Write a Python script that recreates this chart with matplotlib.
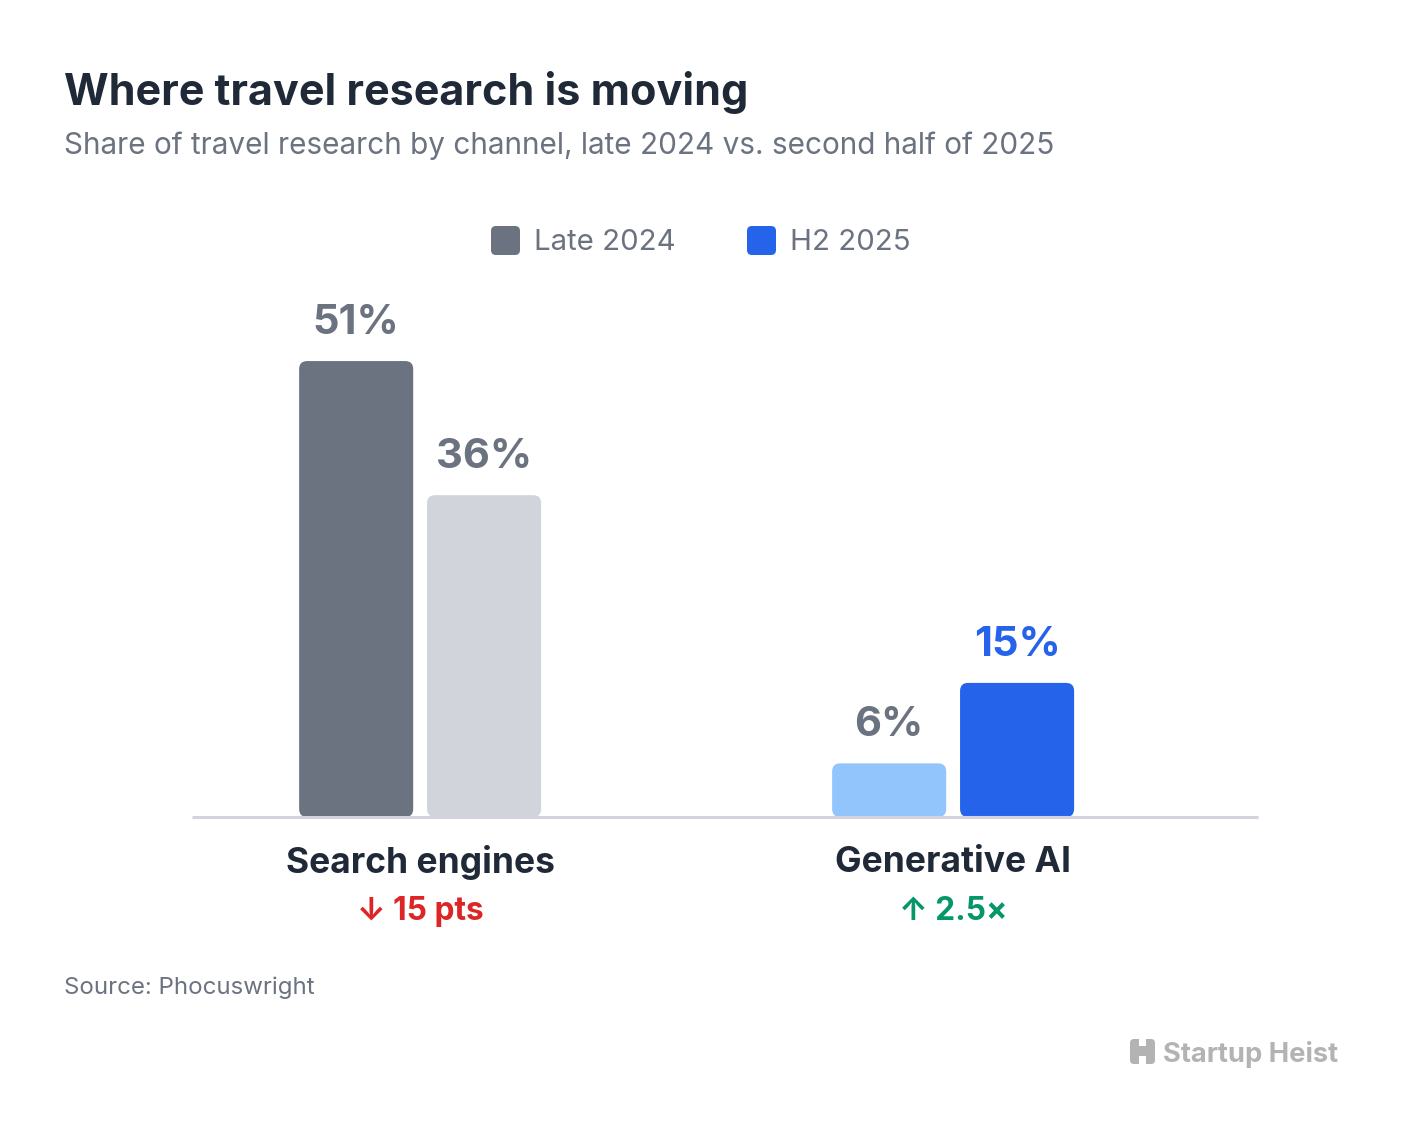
import numpy as np
import matplotlib.pyplot as plt
from matplotlib.patches import FancyBboxPatch, Rectangle

plt.rcParams['font.family'] = ['Inter', 'DejaVu Sans']

# data
categories = ['Search engines', 'Generative AI']
series = ['Late 2024', 'H2 2025']
late_2024 = [51, 6]
h2_2025 = [36, 15]
changes = ['\u2193 15 pts', '\u2191 2.5\u00d7']

# styles
bar_colors = [['#6b7280', '#d1d5db'], ['#93c5fd', '#2563eb']]
label_colors = [['#6b7280', '#6b7280'], ['#6b7280', '#2563eb']]
legend_colors = ['#6b7280', '#2563eb']
change_colors = ['#dc2626', '#059669']
DARK = '#1f2937'
GRAY = '#6b7280'

W, H = 1408, 1136
fig = plt.figure(figsize=(W / 100, H / 100), dpi=100)


def fx(x):
    return x / W


def fy(y):
    return 1 - y / H


ax = fig.add_axes([fx(192), fy(817), fx(1258) - fx(192), (817 - 300) / H])
ax.set_xlim(-0.428, 1.572)
ax.set_ylim(0, 517 / 8.94)
ax.axis('off')

x = np.arange(len(categories))
bw = 0.214
off = 0.12

# px -> data scale, for rounded corners
ax_w_px = (fx(1258) - fx(192)) * W
ax_h_px = 517
xu = (ax.get_xlim()[1] - ax.get_xlim()[0]) / ax_w_px
yu = (ax.get_ylim()[1] - ax.get_ylim()[0]) / ax_h_px
r = 8 * xu

for si, vals in enumerate([late_2024, h2_2025]):
    xs = x + (off if si else -off)
    bars = ax.bar(xs, vals, width=bw)
    for ci, rect in enumerate(bars):
        bx, by = rect.get_x(), rect.get_y()
        w, h = rect.get_width(), rect.get_height()
        rect.remove()
        ax.add_patch(FancyBboxPatch((bx, by), w, h,
                                    boxstyle=f'round,pad=0,rounding_size={r}',
                                    mutation_aspect=yu / xu,
                                    fc=bar_colors[ci][si], ec='none', zorder=2))
        ax.annotate(f'{vals[ci]}%', (xs[ci], vals[ci]), xytext=(0, 27.5),
                    textcoords='offset points', ha='center', va='center',
                    fontsize=30, fontweight='bold', color=label_colors[ci][si])

# baseline
ax.plot([0, 1], [0, 0], transform=ax.transAxes, color='#d1d5db', lw=2.2,
        zorder=3, clip_on=False, solid_capstyle='butt')

for ci, cat in enumerate(categories):
    ax.annotate(cat, (x[ci], 0), xytext=(0, -32.5), textcoords='offset points',
                ha='center', va='center', fontsize=25.5, fontweight='bold', color=DARK)
    ax.annotate(changes[ci], (x[ci], 0), xytext=(0, -68), textcoords='offset points',
                ha='center', va='center', fontsize=22.8, fontweight='bold',
                color=change_colors[ci])

# title, subtitle
fig.text(fx(64), fy(93), 'Where travel research is moving', fontsize=31,
         fontweight='bold', color=DARK, va='center', ha='left')
fig.text(fx(64), fy(146), 'Share of travel research by channel, late 2024 vs. second half of 2025',
         fontsize=21.4, color=GRAY, va='center', ha='left')

# legend
for lx, name, col in zip([491, 747], series, legend_colors):
    fig.patches.append(FancyBboxPatch((fx(lx), fy(255)), 29 / W, 29 / H,
                                      boxstyle=f'round,pad=0,rounding_size={5 / W}',
                                      mutation_aspect=W / H, fc=col, ec='none',
                                      transform=fig.transFigure, figure=fig))
    fig.text(fx(lx + 43), fy(243), name, fontsize=21.2, color=GRAY, va='center', ha='left')

# source
fig.text(fx(64), fy(988), 'Source: Phocuswright', fontsize=17.3, color=GRAY,
         va='center', ha='left')

# logo
LOGO = '#b3b3b3'
fig.patches.append(FancyBboxPatch((fx(1130), fy(1064)), 25 / W, 25 / H,
                                  boxstyle=f'round,pad=0,rounding_size={4 / W}',
                                  mutation_aspect=W / H, fc=LOGO, ec='none',
                                  transform=fig.transFigure, figure=fig))
fig.patches.append(Rectangle((fx(1139), fy(1046)), 7 / W, 8 / H, fc='white', ec='none',
                             transform=fig.transFigure, figure=fig))
fig.patches.append(Rectangle((fx(1139), fy(1064)), 7 / W, 8 / H, fc='white', ec='none',
                             transform=fig.transFigure, figure=fig))
fig.text(fx(1338), fy(1054), 'Startup Heist', fontsize=19.7, fontweight='bold',
         color=LOGO, va='center', ha='right')

fig.savefig('out.png', dpi=100, facecolor='white')
